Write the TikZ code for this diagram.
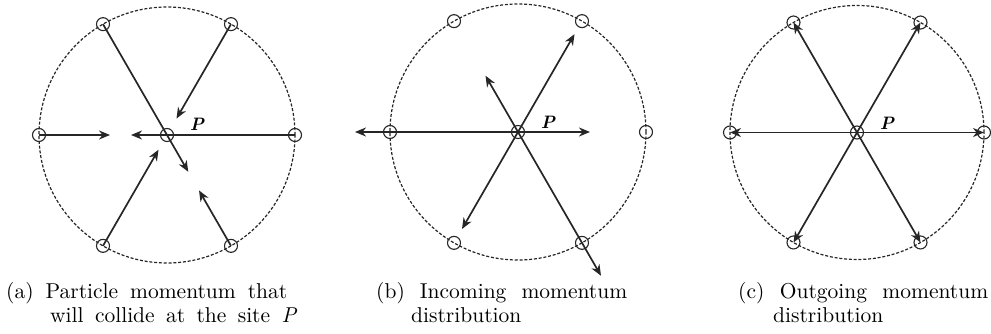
\documentclass[tikz,border=0pt]{standalone}
\usepackage{fontspec}
\setmainfont{lmroman10-regular.otf}[ItalicFont=lmroman10-italic.otf,BoldFont=lmroman10-bold.otf,BoldItalicFont=lmroman10-bolditalic.otf]
\usetikzlibrary{arrows.meta}
\definecolor{ink}{HTML}{262626}
\begin{document}
\begin{tikzpicture}[x=1pt,y=1pt,
  ring/.style={draw=ink,line width=1.1pt,circle,minimum size=13pt,inner sep=0pt},
  rim/.style={draw=ink,line width=1.2pt,dash pattern=on 3pt off 1.8pt},
  mom/.style={draw=ink,line width=1.7pt,-{Stealth[length=11pt,width=9pt,inset=3.5pt]}},
  plabel/.style={font=\fontsize{18}{18}\selectfont\bfseries\itshape,inner sep=0pt},
  captext/.style={font=\fontsize{21.5}{24}\selectfont,anchor=base west,inner sep=0pt}
]
\useasboundingbox (0,0) rectangle (991,334);
% ---------------- panel (a)
\coordinate (ca) at (167,199);
\draw[rim] (ca) circle (128);
\node[ring] (pa) at (ca) {};
\foreach \i/\ang in {0/0,1/60,2/120,3/180,4/240,5/300}
  \node[ring] (a\i) at ([shift={(\ang:128)}]ca) {};
\coordinate (ta0) at ([shift={(180:36)}]ca);
\coordinate (ta1) at ([shift={(60:19)}]ca);
\coordinate (ta2) at ([shift={(300:42.5)}]ca);
\coordinate (ta3) at ([shift={(180:57)}]ca);
\coordinate (ta4) at ([shift={(240:17)}]ca);
\coordinate (ta5) at ([shift={(300:64)}]ca);
\foreach \i in {0,...,5} \draw[mom] (a\i.center) -- (ta\i);
\node[plabel] (la) at ([shift={(30,11)}]ca) {P};
% ---------------- panel (b)
\coordinate (cb) at (518,202);
\draw[rim] (cb) circle (128);
\node[ring] (pb) at (cb) {};
\foreach \i/\ang in {0/0,1/60,2/120,3/180,4/240,5/300}
  \node[ring] (b\i) at ([shift={(\ang:128)}]cb) {};
\coordinate (tb0) at ([shift={(0:72)}]cb);
\coordinate (tb1) at ([shift={(60:113)}]cb);
\coordinate (tb2) at ([shift={(120:65)}]cb);
\coordinate (tb3) at ([shift={(180:163)}]cb);
\coordinate (tb4) at ([shift={(240:112)}]cb);
\coordinate (tb5) at ([shift={(300:166)}]cb);
\foreach \i in {0,...,5} \draw[mom] (pb.center) -- (tb\i);
\node[plabel] (lb) at ([shift={(30,10)}]cb) {P};
% ---------------- panel (c)
\coordinate (cc) at (857,201.5);
\draw[rim] (cc) circle (127);
\node[ring] (pc) at (cc) {};
\foreach \i/\ang in {0/0,1/60,2/120,3/180,4/240,5/300}
  \node[ring] (c\i) at ([shift={(\ang:127)}]cc) {};
\foreach \i in {0,...,5} \draw[mom] (pc.center) -- (c\i.center);
\node[plabel] (lc) at ([shift={(30,9)}]cc) {P};
% ---------------- captions
\node[captext] (capa1) at (6,35) {\makebox[281pt][s]{(a) Particle momentum that}};
\node[captext] (capa2) at (50,11) {\makebox[247pt][s]{will collide at the site \textit{P}}};
\node[captext] (capb1) at (376,35) {\makebox[251pt][s]{(b) Incoming momentum}};
\node[captext] (capb2) at (411,11) {distribution};
\node[captext] (capc1) at (738,35) {\makebox[250pt][s]{(c) Outgoing momentum}};
\node[captext] (capc2) at (773,11) {distribution};
\end{tikzpicture}
\end{document}
